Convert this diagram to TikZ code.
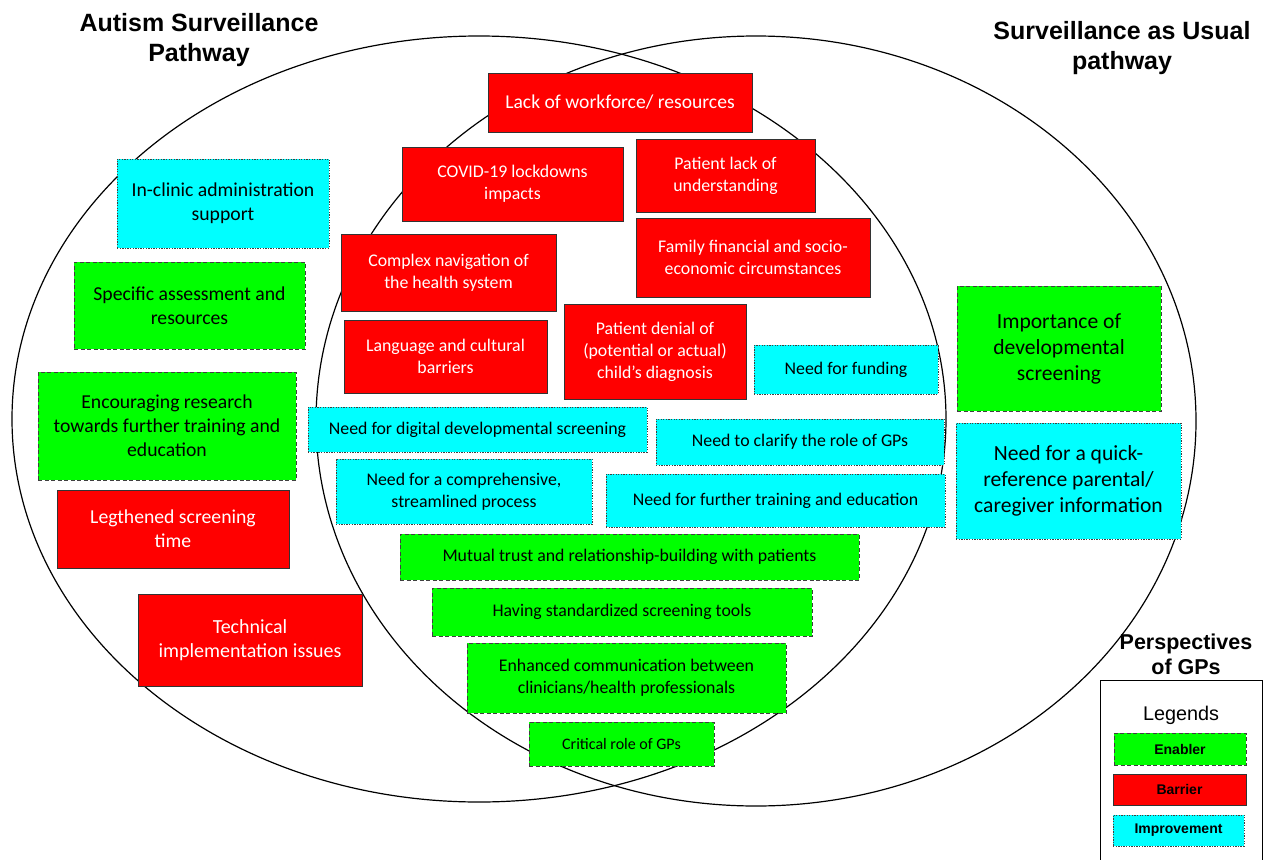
\documentclass[tikz,border=0pt]{standalone}
\usepackage{fontspec}
\setmainfont{Carlito}
\newfontfamily\headfont{Liberation Sans}
\usepackage{xcolor}
\usepackage{tikz}
\usetikzlibrary{shapes}
\definecolor{barred}{RGB}{255,0,0}
\definecolor{enagreen}{RGB}{0,255,0}
\definecolor{impcyan}{RGB}{0,255,255}
\tikzstyle{box}=[rectangle,inner sep=0pt,align=center,line width=0.9pt,font=\fontsize{17.8}{22}\selectfont]
\tikzstyle{barrier}=[box,draw=black!80,fill=barred,text=white]
\tikzstyle{enabler}=[box,draw=black!75,fill=enagreen,dash pattern=on 4pt off 2.5pt]
\tikzstyle{improvement}=[box,draw=black!75,fill=impcyan,dash pattern=on 1.3pt off 1.3pt]
\tikzstyle{title}=[align=center,font=\headfont\bfseries\fontsize{25}{30}\selectfont]
\tikzstyle{key}=[font=\headfont\bfseries\fontsize{14}{16}\selectfont]

\begin{document}
\begin{tikzpicture}[x=1pt,y=-1pt]
        \useasboundingbox (0,0) rectangle (1263,859);
        % the two pathways
        \draw[line width=1.2pt] (479,419) ellipse [x radius=467pt, y radius=383pt];
        \draw[line width=1.2pt] (756,421) ellipse [x radius=440pt, y radius=385pt];
        \node at (199,40) [title] (asp) {Autism Surveillance\\Pathway};
        \node at (1122,48) [title] (sau) {Surveillance as Usual\\pathway};
        \node at (1186,654) [title,font=\headfont\bfseries\fontsize{21.5}{25}\selectfont] (gps) {Perspectives\\of GPs};
        % shared by both pathways
        \node at (620,102.5) [barrier,minimum width=264pt,minimum height=59pt,font=\fontsize{19.6}{24}\selectfont] (workforce) {Lack of workforce/ resources};
        \node at (512.5,184) [barrier,minimum width=221pt,minimum height=74pt] (covid) {COVID-19 lockdowns\\impacts};
        \node at (725.5,175.5) [barrier,minimum width=179pt,minimum height=73pt] (understanding) {Patient lack of\\understanding};
        \node at (753,257.5) [barrier,minimum width=234pt,minimum height=79pt] (family) {Family financial and socio-\\economic circumstances};
        \node at (448.5,272.5) [barrier,minimum width=215pt,minimum height=77pt] (navigation) {Complex navigation of\\the health system};
        \node at (445.5,356.5) [barrier,minimum width=203pt,minimum height=73pt] (language) {Language and cultural\\barriers};
        \node at (655,351.5) [barrier,minimum width=182pt,minimum height=95pt] (denial) {Patient denial of\\(potential or actual)\\child’s diagnosis};
        \node at (846,369.5) [improvement,minimum width=184pt,minimum height=49pt] (funding) {Need for funding};
        \node at (477.5,429.5) [improvement,minimum width=339pt,minimum height=45pt] (digital) {Need for digital developmental screening};
        \node at (800,442) [improvement,minimum width=288pt,minimum height=46pt] (clarify) {Need to clarify the role of GPs};
        \node at (464,491.5) [improvement,minimum width=256pt,minimum height=65pt] (process) {Need for a comprehensive,\\streamlined process};
        \node at (775.5,500.5) [improvement,minimum width=339pt,minimum height=53pt] (training) {Need for further training and education};
        \node at (629.5,557) [enabler,minimum width=459pt,minimum height=46pt] (trust) {Mutual trust and relationship-building with patients};
        \node at (622,612) [enabler,minimum width=380pt,minimum height=48pt] (tools) {Having standardized screening tools};
        \node at (626.5,678) [enabler,minimum width=319pt,minimum height=70pt] (communication) {Enhanced communication between\\clinicians/health professionals};
        \node at (621.5,744) [enabler,minimum width=185pt,minimum height=44pt,font=\fontsize{16}{19}\selectfont] (critical) {Critical role of GPs};
        % autism surveillance pathway only
        \node at (223,203.5) [improvement,minimum width=212pt,minimum height=89pt,font=\fontsize{19.7}{24}\selectfont] (admin) {In-clinic administration\\support};
        \node at (189.5,305.5) [enabler,minimum width=231pt,minimum height=87pt,font=\fontsize{19.7}{24}\selectfont] (assessment) {Specific assessment and\\resources};
        \node at (167,426) [enabler,minimum width=258pt,minimum height=108pt,font=\fontsize{19.7}{24}\selectfont] (research) {Encouraging research\\towards further training and\\education};
        \node at (173,529) [barrier,minimum width=232pt,minimum height=78pt,font=\fontsize{19.7}{24}\selectfont] (time) {Legthened screening\\time};
        \node at (250,640) [barrier,minimum width=224pt,minimum height=92pt,font=\fontsize{20}{24}\selectfont] (technical) {Technical\\implementation issues};
        % surveillance as usual only
        \node at (1059,348.5) [enabler,minimum width=204pt,minimum height=125pt,font=\fontsize{21.6}{26}\selectfont] (importance) {Importance of\\developmental\\screening};
        \node at (1068.5,481) [improvement,minimum width=225pt,minimum height=116pt,font=\fontsize{21.6}{26}\selectfont] (quickref) {Need for a quick-\\reference parental/\\caregiver information};
        % legend
        \node at (1181,775) [draw,line width=0.9pt,minimum width=162pt,minimum height=190pt] (legend) {};
        \node at (1181,715) [font=\headfont\fontsize{19.8}{22}\selectfont] (legtitle) {Legends};
        \node at (1180,749) [enabler,minimum width=132pt,minimum height=32pt,key] (kenabler) {Enabler};
        \node at (1179.5,789.5) [barrier,minimum width=133pt,minimum height=31pt,text=black,key] (kbarrier) {Barrier};
        \node at (1178.5,830.5) [improvement,minimum width=131pt,minimum height=31pt,key] (kimprove) {Improvement};
      \end{tikzpicture}
\end{document}
